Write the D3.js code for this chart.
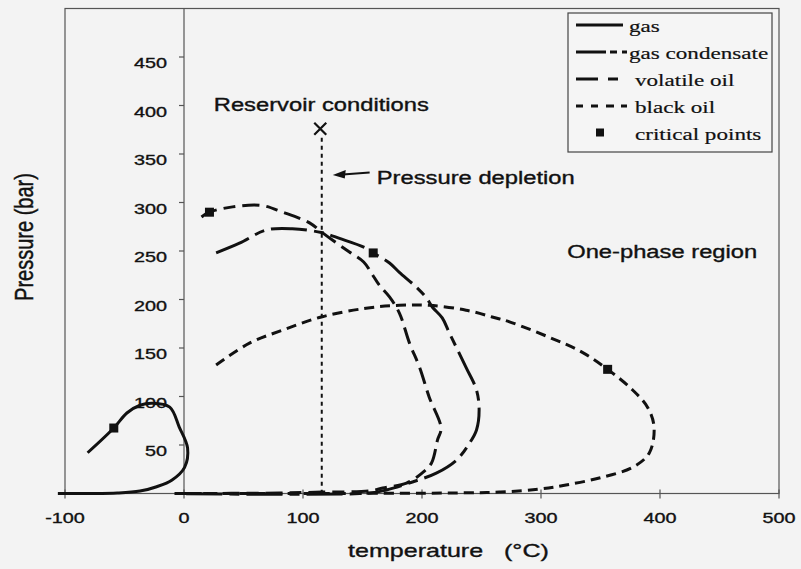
<!DOCTYPE html>
<html>
<head>
<meta charset="utf-8">
<script src="https://cdn.jsdelivr.net/npm/d3@7"></script>
<style>
    body { margin: 0; background: #f3f3f3; }
    svg { display: block; }
    text { white-space: pre; }
</style>
</head>
<body>
<div id="chart" style="width:801px;height:569px"></div>
<script>

// tick values
const xTicks = [-100, 0, 100, 200, 300, 400, 500];
const yTicks = [50, 100, 150, 200, 250, 300, 350, 400, 450];

// phase envelopes, [temperature (C), pressure (bar)]
const gasCurve = [[-81, 42], [-59, 67.5], [-48, 83], [-37, 91], [-26.5, 93], [-12, 89], [-4, 68.5],
    [3, 47], [0.5, 27], [-10, 14], [-23, 7], [-37, 2.5], [-56, 0.5], [-80, 0], [-106, 0]];

const condensateCurve = [[14.7, 285], [21.4, 290], [40.8, 295.5], [65, 297], [83, 290], [105.5, 279],
    [115.5, 269.6], [125, 261], [139, 249], [151, 238.7], [157.6, 227], [164, 215], [172.7, 202.6],
    [181, 186], [189.5, 155], [198, 130], [206, 99.5], [216, 67.5], [213, 55], [208, 31.4], [200, 21],
    [187, 10.8], [167, 5.7], [156, 2.6], [116, 1.5], [80, 0.5], [-8, 0]];

const volatileCurve = [[27, 248], [46.6, 258], [69, 271.6], [91, 273], [115.5, 269], [130.7, 263],
    [153, 253], [159, 248], [172.7, 237.6], [181, 228], [195, 213], [203.8, 201.5], [208.8, 192],
    [217, 181], [223, 165.5], [237, 130], [245.8, 106.7], [248, 86], [245.8, 65.5], [240, 52],
    [229, 34.5], [212, 21], [192, 11.9], [170, 3.6], [156, 0.5], [-8, 0]];

const blackOilCurve = [[27, 132.5], [55, 155], [83, 168.5], [115.5, 182], [153, 191], [181, 194],
    [206, 194], [237, 189], [259, 182], [273.5, 177], [307, 161], [334, 146], [356, 128], [377, 106.7],
    [389.5, 89], [395, 68.5], [391, 41.8], [377, 27], [349, 16], [321, 8.8], [299, 4.6], [265, 1.5],
    [223, 0.5], [-8, 0]];

const criticalPoints = [[-59, 67.5], [21.4, 290], [159, 248], [356, 128]];

const reservoirPoint = [114.5, 376];
const depletionArrow = [[156, 330], [125, 330]];

const legendLabels = ['gas', 'gas condensate', 'volatile oil', 'black oil', 'critical points'];


class PhaseEnvelopeVis {

    constructor(parentElement) {
        this.parentElement = parentElement;
        this.sx = 1.32;   // the scan is stretched horizontally
        this.initVis();
    }

    initVis() {
        let vis = this;

        vis.width = 801;
        vis.height = 569;

        vis.svg = d3.select('#' + vis.parentElement).append('svg')
            .attr('width', vis.width)
            .attr('height', vis.height);

        vis.svg.append('rect')
            .attr('width', vis.width)
            .attr('height', vis.height)
            .attr('fill', '#f3f3f3');

        // scales
        vis.x = d3.scaleLinear().domain([-100, 500]).range([65, 779]);
        vis.y = d3.scaleLinear().domain([0, 500]).range([493.5, 8.5]);

        // frame
        vis.svg.append('rect')
            .attr('x', vis.x(-100))
            .attr('y', vis.y(500))
            .attr('width', vis.x(500) - vis.x(-100))
            .attr('height', vis.y(0) - vis.y(500))
            .attr('fill', 'none')
            .attr('stroke', '#555')
            .attr('stroke-width', 1.2);

        // y axis sits at T = 0
        let yAxis = vis.svg.append('g')
            .attr('transform', `translate(${vis.x(0)},0)`);
        yAxis.append('line')
            .attr('y1', vis.y(500)).attr('y2', vis.y(0))
            .attr('stroke', '#555').attr('stroke-width', 1.2);
        yAxis.selectAll('.ytick').data(yTicks).enter().append('line')
            .attr('class', 'ytick')
            .attr('x1', -5).attr('x2', 0)
            .attr('y1', d => vis.y(d)).attr('y2', d => vis.y(d))
            .attr('stroke', '#555').attr('stroke-width', 1.2);
        yTicks.forEach(d => {
            vis.addText(vis.svg, d, vis.x(0) - 17, vis.y(d) + 11, 15, 'sans', 'end');
        });

        // x axis ticks
        vis.svg.selectAll('.xtick').data(xTicks).enter().append('line')
            .attr('class', 'xtick')
            .attr('x1', d => vis.x(d)).attr('x2', d => vis.x(d))
            .attr('y1', vis.y(0) - 4).attr('y2', vis.y(0) + 5)
            .attr('stroke', '#555').attr('stroke-width', 1.2);
        xTicks.forEach(d => {
            vis.addText(vis.svg, d, vis.x(d), 523, 15, 'sans', 'middle');
        });

        // axis titles
        vis.addText(vis.svg, 'temperature   (\u00B0C)', 348, 557, 19, 'sans', 'start');
        vis.svg.append('text')
            .attr('transform', `translate(33,237) scale(${vis.sx},1) rotate(-90)`)
            .attr('text-anchor', 'middle')
            .attr('font-family', '"Liberation Sans", Arial, sans-serif')
            .attr('font-size', 20)
            .attr('fill', '#111')
            .attr('stroke', '#111')
            .attr('stroke-width', 0.35)
            .text('Pressure (bar)');

        // curves
        let line = d3.line()
            .x(d => vis.x(d[0]))
            .y(d => vis.y(d[1]))
            .curve(d3.curveCatmullRom.alpha(0.5));

        let series = [
            {values: gasCurve, dash: null},
            {values: condensateCurve, dash: '17,7,12,7'},
            {values: volatileCurve, dash: '36,7,10,7'},
            {values: blackOilCurve, dash: '10,6'}
        ];

        vis.svg.selectAll('.curve').data(series).enter().append('path')
            .attr('class', 'curve')
            .attr('fill', 'none')
            .attr('stroke', '#111')
            .attr('stroke-width', 3)
            .attr('stroke-dasharray', d => d.dash)
            .attr('d', d => line(d.values));

        // critical points
        vis.svg.selectAll('.crit').data(criticalPoints).enter().append('rect')
            .attr('class', 'crit')
            .attr('x', d => vis.x(d[0]) - 4.5)
            .attr('y', d => vis.y(d[1]) - 4.5)
            .attr('width', 9).attr('height', 9)
            .attr('fill', '#111');

        // reservoir conditions + depletion path
        vis.svg.append('line')
            .attr('x1', vis.x(reservoirPoint[0]) + 1.5).attr('x2', vis.x(reservoirPoint[0]) + 1.5)
            .attr('y1', vis.y(reservoirPoint[1]) + 9).attr('y2', vis.y(0))
            .attr('stroke', '#111')
            .attr('stroke-width', 2)
            .attr('stroke-dasharray', '4,4');

        let rx = vis.x(reservoirPoint[0]), ry = vis.y(reservoirPoint[1]);
        vis.svg.append('path')
            .attr('d', `M${rx - 6},${ry - 6}L${rx + 6},${ry + 6}M${rx - 6},${ry + 6}L${rx + 6},${ry - 6}`)
            .attr('stroke', '#111')
            .attr('stroke-width', 2.2);

        let ax0 = vis.x(depletionArrow[0][0]), ax1 = vis.x(depletionArrow[1][0]), ay = vis.y(depletionArrow[0][1]);
        vis.svg.append('line')
            .attr('x1', ax0).attr('x2', ax1 + 10)
            .attr('y1', ay - 1).attr('y2', ay + 1)
            .attr('stroke', '#111').attr('stroke-width', 2);
        vis.svg.append('path')
            .attr('d', `M${ax1},${ay + 1.5}L${ax1 + 13},${ay - 3.5}L${ax1 + 12},${ay + 5}Z`)
            .attr('fill', '#111');

        // annotations
        vis.addText(vis.svg, 'Reservoir conditions', vis.x(25), vis.y(394), 18, 'sans', 'start');
        vis.addText(vis.svg, 'Pressure depletion', vis.x(162), vis.y(319), 18, 'sans', 'start');
        vis.addText(vis.svg, 'One-phase region', vis.x(322), vis.y(243), 18, 'sans', 'start');

        // legend
        let lg = vis.svg.append('g').attr('transform', 'translate(568,13)');
        lg.append('rect')
            .attr('width', 204).attr('height', 139)
            .attr('fill', '#f5f5f5')
            .attr('stroke', '#444').attr('stroke-width', 1.2);

        let sampleDash = [null, '30,4,7,5,7', '22,10,10', '7,8,7,8,8', null];
        let textX = [61, 61, 67, 67, 67];
        legendLabels.forEach((label, i) => {
            let yy = 18.5 + i * 27;
            if (i < 4) {
                lg.append('line')
                    .attr('x1', 8).attr('x2', i === 0 ? 55 : 59)
                    .attr('y1', yy - 6.5).attr('y2', yy - 6.5)
                    .attr('stroke', '#111').attr('stroke-width', 3)
                    .attr('stroke-dasharray', sampleDash[i]);
            } else {
                lg.append('rect')
                    .attr('x', 28).attr('y', yy - 11)
                    .attr('width', 8).attr('height', 8)
                    .attr('fill', '#111');
            }
            vis.addText(lg, label, textX[i], yy, 17.5, 'serif', 'start');
        });
    }

    addText(g, str, x, y, size, family, anchor) {
        let vis = this;
        return g.append('text')
            .attr('transform', `translate(${x},${y}) scale(${vis.sx},1)`)
            .attr('text-anchor', anchor)
            .attr('font-family', family === 'serif'
                ? '"Liberation Serif", "Times New Roman", serif'
                : '"Liberation Sans", Arial, sans-serif')
            .attr('font-size', size)
            .attr('fill', '#111')
            .attr('stroke', '#111')
            .attr('stroke-width', family === 'serif' ? 0.2 : 0.35)
            .text(str);
    }
}

new PhaseEnvelopeVis('chart');

</script>
</body>
</html>
